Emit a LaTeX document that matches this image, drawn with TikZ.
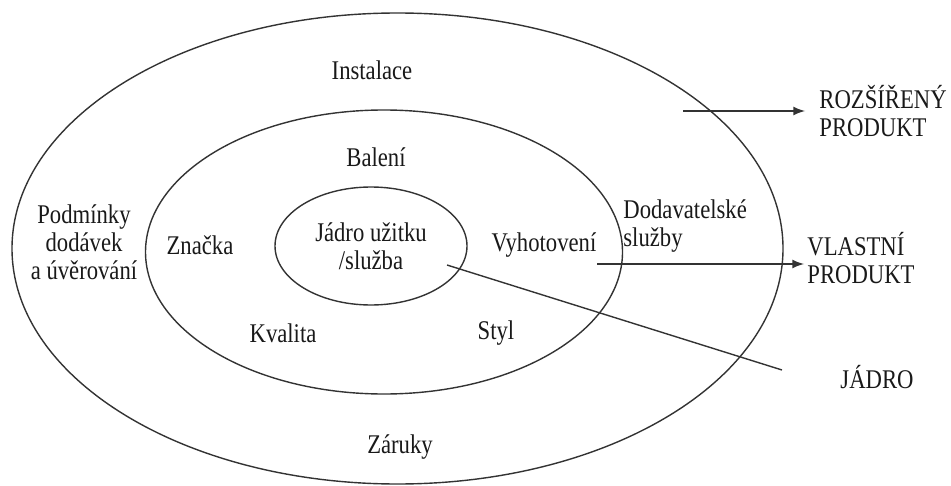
\documentclass[tikz,border=0pt]{standalone}
\usepackage{fontspec}
\setmainfont{Liberation Serif}
\newfontfamily\labelfont[FakeStretch=0.84]{Liberation Serif}
\usetikzlibrary{shapes.geometric}

\tikzset{
	ring/.style={draw=black!80, line width=0.7pt, ellipse, inner sep=0pt},
	lbl/.style={font=\labelfont\fontsize{13.5}{14}\selectfont, inner sep=0pt, text=black!90},
	link/.style={draw=black!80, line width=0.7pt},
}

\begin{document}
\begin{tikzpicture}[x=0.5pt, y=-0.5pt, >=latex]
			\useasboundingbox (0,0) rectangle (951,486);
			
			%Rings
			\node[ring, minimum width=385.5pt, minimum height=235.5pt] (outer) at (397.5,248.5) {};
			\node[ring, minimum width=238.5pt, minimum height=142pt] (middle) at (384,252) {};
			\node[ring, lbl, align=center, minimum width=96pt, minimum height=59pt] (core) at (371,246) {J\'adro u\v{z}itku\\/slu\v{z}ba};
			
			%Outer ring
			\node[lbl] (instalace) at (372,70) {Instalace};
			\node[lbl, align=center] (podminky) at (84,242) {Podm\'inky\\dod\'avek\\a \'uv\v{e}rov\'an\'i};
			\node[lbl, align=left, anchor=west] (dodavatel) at (623,226) {Dodavatelsk\'e\\slu\v{z}by};
			\node[lbl] (zaruky) at (400,447) {Z\'aruky};
			
			%Middle ring
			\node[lbl] (baleni) at (376,157) {Balen\'i};
			\node[lbl] (znacka) at (200,245) {Zna\v{c}ka};
			\node[lbl] (vyhotoveni) at (544,245) {Vyhotoven\'i};
			\node[lbl] (kvalita) at (283,333) {Kvalita};
			\node[lbl] (styl) at (496,333) {Styl};
			
			%Right side
			\node[lbl, align=left, anchor=west] (rozsireny) at (819,111) {ROZ\v{S}\'I\v{R}EN\'Y\\PRODUKT};
			\node[lbl, align=left, anchor=west] (vlastni) at (807,258) {VLASTN\'I\\PRODUKT};
			\node[lbl] (jadro) at (877,377) {J\'ADRO};
			
			%Lines
			\coordinate (a1) at (683,111);
			\coordinate (a2) at (597,264);
			\coordinate (j1) at (447,265);
			\coordinate (j2) at (782,370);
			\draw[link, ->, line width=1pt] (a1) -- ([xshift=-7pt]rozsireny.west);
			\draw[link, ->, line width=1pt] (a2) -- ([xshift=-1.5pt]a2 -| vlastni.west);
			\draw[link] (j1) -- (j2);
\end{tikzpicture}
\end{document}
